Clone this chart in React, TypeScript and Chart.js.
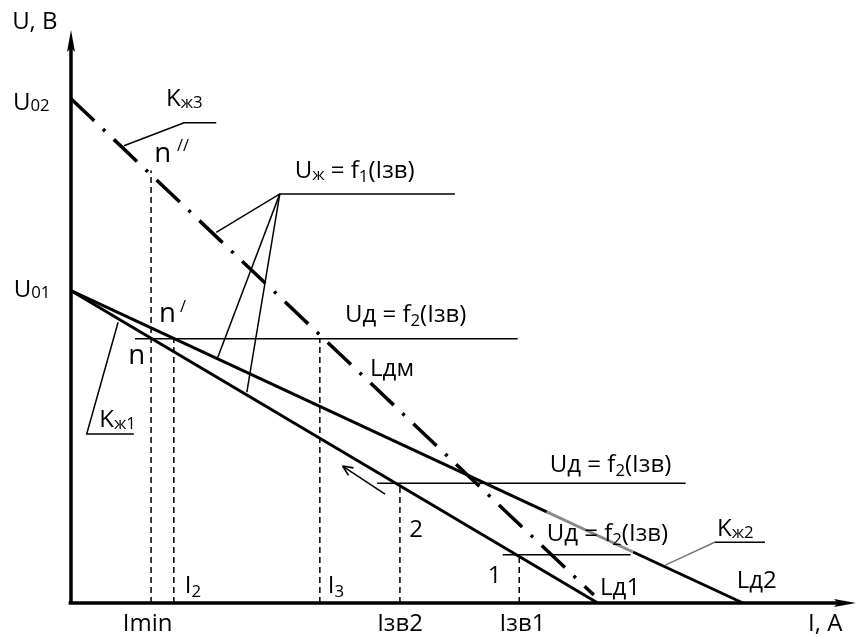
import React, { useEffect, useRef } from "react";
import { Chart, registerables } from "chart.js";
Chart.register(...registerables);

// ---- data (I in relative units 0..100, U in relative units 0..100) ----
const U02 = 88;
const U01 = 54.5;
const ldmLine = [{ x: 0, y: U02 }, { x: 66.6, y: 1.4 }];          // Lдм (dash-dot)
const ld1Line = [{ x: 0, y: U01 }, { x: 67.1, y: 0 }];            // Lд1
const ld2LineA = [{ x: 0, y: U01 }, { x: 60.6, y: 15.9 }];         // Lд2 (black part)
const ld2LineGray = [{ x: 60.6, y: 15.9 }, { x: 71.6, y: 8.9 }];   // Lд2 (grey part)
const ld2LineB = [{ x: 71.6, y: 8.9 }, { x: 85.6, y: 0 }];         // Lд2 (black part)
const uLevels = [46.1, 20.9, 8.4];                                   // Uд = f2(Iзв) levels
const uLevelStart = [8.15, 39.0, 55.0];
const uLevelEnd = [56.9, 78.3, 71.3];
const dropNames = ["Imin", "I2", "I3", "Iзв2", "Iзв1"];
const dropI = [10.2, 13.1, 31.7, 41.9, 57.1];
const dropTop = [75.5, 46.1, 46.1, 20.9, 8.4];
// leader lines
const ujLeader = [{ x: 48.9, y: 71.4 }, { x: 26.6, y: 71.4 }, { x: 18.5, y: 64.7 }];
const ujLeader2 = [{ x: 26.6, y: 71.4 }, { x: 18.7, y: 42.9 }];
const ujLeader3 = [{ x: 26.6, y: 71.4 }, { x: 22.4, y: 36.8 }];
const kj3Leader = [{ x: 6.75, y: 79.8 }, { x: 14.4, y: 83.8 }, { x: 18.5, y: 83.8 }];
const kj1Leader = [{ x: 6.0, y: 49.0 }, { x: 2.0, y: 29.5 }, { x: 8.0, y: 29.5 }];
const kj2LeaderDiag = [{ x: 75.7, y: 6.6 }, { x: 82.0, y: 10.6 }];
const kj2LeaderHor = [{ x: 82.0, y: 10.6 }, { x: 88.4, y: 10.6 }];
const moveArrow = [{ x: 40.0, y: 19.0 }, { x: 34.6, y: 23.9 }];
const yAxisLine = [{ x: 0, y: 0 }, { x: 0, y: 97 }];
const xAxisLine = [{ x: -0.3, y: 0 }, { x: 98, y: 0 }];

type Seg = { t: string; s?: number; dy?: number };
type Label = { parts: Seg[]; x: number; y: number };
const labels: Label[] = [
  { parts: [{ t: "U, В" }], x: -7.5, y: 100.2 },
  { parts: [{ t: "U" }, { t: "02", s: 0.7, dy: 1 }], x: -7.4, y: 86.0 },
  { parts: [{ t: "U" }, { t: "01", s: 0.7, dy: 1 }], x: -7.3, y: 53.4 },
  { parts: [{ t: "K" }, { t: "ж3", s: 0.7, dy: 2 }], x: 12.1, y: 86.7 },
  { parts: [{ t: "n", s: 1.15 }], x: 10.6, y: 77.0 },
  { parts: [{ t: "//", s: 0.68 }], x: 13.5, y: 78.9 },
  { parts: [{ t: "U" }, { t: "ж", s: 0.7, dy: 2 }, { t: " = f" }, { t: "1", s: 0.7, dy: 4 }, { t: "(Iзв)" }], x: 28.5, y: 74.2 },
  { parts: [{ t: "n", s: 1.15 }], x: 11.2, y: 49.0 },
  { parts: [{ t: "/", s: 0.68 }], x: 13.9, y: 50.8 },
  { parts: [{ t: "n", s: 1.15 }], x: 7.3, y: 41.7 },
  { parts: [{ t: "Uд = f" }, { t: "2", s: 0.7, dy: 4 }, { t: "(Iзв)" }], x: 34.9, y: 49.0 },
  { parts: [{ t: "Lдм" }], x: 38.1, y: 39.6 },
  { parts: [{ t: "K" }, { t: "ж1", s: 0.7, dy: 2 }], x: 3.6, y: 30.7 },
  { parts: [{ t: "Uд = f" }, { t: "2", s: 0.7, dy: 4 }, { t: "(Iзв)" }], x: 61.0, y: 22.9 },
  { parts: [{ t: "2" }], x: 43.1, y: 11.5 },
  { parts: [{ t: "Uд = f" }, { t: "2", s: 0.7, dy: 4 }, { t: "(Iзв)" }], x: 60.6, y: 10.8 },
  { parts: [{ t: "K" }, { t: "ж2", s: 0.7, dy: 2 }], x: 82.3, y: 11.7 },
  { parts: [{ t: "1" }], x: 53.1, y: 3.5 },
  { parts: [{ t: "Lд1" }], x: 67.4, y: 1.4 },
  { parts: [{ t: "Lд2" }], x: 84.8, y: 2.6 },
  { parts: [{ t: "I" }, { t: "2", s: 0.7, dy: 4 }], x: 14.5, y: 1.7 },
  { parts: [{ t: "I" }, { t: "3", s: 0.7, dy: 4 }], x: 32.7, y: 1.7 },
  { parts: [{ t: dropNames[0] }], x: 6.6, y: -4.9 },
  { parts: [{ t: dropNames[3] }], x: 39.0, y: -4.9 },
  { parts: [{ t: dropNames[4] }], x: 54.6, y: -4.9 },
  { parts: [{ t: "I, A" }], x: 93.9, y: -4.9 },
];

const FONT = '"Open Sans", "Noto Sans", sans-serif';
const BASE = 24;

function ds(data: { x: number; y: number }[], width: number, color = "#000", dash: number[] = []) {
  return {
    data,
    showLine: true,
    borderColor: color,
    borderWidth: width,
    borderDash: dash,
    borderCapStyle: "butt" as const,
    pointRadius: 0,
    fill: false,
    clip: false as any,
    tension: 0,
  };
}

const decorPlugin = {
  id: "decor",
  afterDatasetsDraw(chart: any) {
    const ctx = chart.ctx as CanvasRenderingContext2D;
    const xs = chart.scales.x, ys = chart.scales.y;
    const px = (v: number) => xs.getPixelForValue(v);
    const py = (v: number) => ys.getPixelForValue(v);
    ctx.save();
    ctx.fillStyle = "#000";
    // y-axis arrowhead
    const yt = { x: px(0), y: py(100) };
    ctx.beginPath();
    ctx.moveTo(yt.x, yt.y);
    ctx.lineTo(yt.x + 4, yt.y + 22);
    ctx.lineTo(yt.x, yt.y + 18);
    ctx.lineTo(yt.x - 4, yt.y + 22);
    ctx.closePath();
    ctx.fill();
    // x-axis arrowhead
    const xt = { x: px(100), y: py(0) };
    ctx.beginPath();
    ctx.moveTo(xt.x, xt.y);
    ctx.lineTo(xt.x - 22, xt.y - 4);
    ctx.lineTo(xt.x - 18, xt.y);
    ctx.lineTo(xt.x - 22, xt.y + 4);
    ctx.closePath();
    ctx.fill();
    // open arrowhead on the motion arrow
    const a0 = { x: px(moveArrow[0].x), y: py(moveArrow[0].y) };
    const a1 = { x: px(moveArrow[1].x), y: py(moveArrow[1].y) };
    const ang = Math.atan2(a1.y - a0.y, a1.x - a0.x);
    ctx.strokeStyle = "#000";
    ctx.lineWidth = 1.6;
    ctx.beginPath();
    for (const d of [0.42, -0.42]) {
      ctx.moveTo(a1.x, a1.y);
      ctx.lineTo(a1.x - 11 * Math.cos(ang + d), a1.y - 11 * Math.sin(ang + d));
    }
    ctx.stroke();
    // labels
    ctx.textBaseline = "alphabetic";
    ctx.textAlign = "left";
    for (const l of labels) {
      let x = px(l.x);
      const y = py(l.y);
      for (const p of l.parts) {
        const size = BASE * (p.s ?? 1);
        ctx.font = `${size}px ${FONT}`;
        ctx.fillText(p.t, x, y + (p.dy ?? 0));
        x += ctx.measureText(p.t).width;
      }
    }
    ctx.restore();
  },
};

export default function App() {
  const ref = useRef<HTMLCanvasElement | null>(null);
  useEffect(() => {
    if (!ref.current) return;
    const datasets: any[] = [
      ds(yAxisLine, 3.5),
      ds(xAxisLine, 3.5),
      ds(ldmLine, 3.5, "#000", [32, 12, 3, 12]),
      ds(ld1Line, 3),
      ds(ld2LineA, 3),
      ds(ld2LineGray, 3, "#8a8a8a"),
      ds(ld2LineB, 3),
    ];
    uLevels.forEach((u, i) => {
      datasets.push(ds([{ x: uLevelStart[i], y: u }, { x: uLevelEnd[i], y: u }], 1.5));
    });
    dropI.forEach((v, i) => {
      datasets.push(ds([{ x: v, y: 0 }, { x: v, y: dropTop[i] }], 1.5, "#000", [6, 4]));
    });
    [ujLeader, ujLeader2, ujLeader3, kj3Leader, kj1Leader, kj2LeaderHor, moveArrow].forEach((d) =>
      datasets.push(ds(d, 1.5))
    );
    datasets.push(ds(kj2LeaderDiag, 1.5, "#777"));

    const chart = new Chart(ref.current, {
      type: "scatter",
      data: { datasets },
      options: {
        animation: false,
        responsive: false,
        maintainAspectRatio: false,
        events: [],
        layout: { padding: { left: 71, right: 2, top: 30, bottom: 34 } },
        scales: {
          x: { type: "linear", min: 0, max: 100, display: false },
          y: { type: "linear", min: 0, max: 100, display: false },
        },
        plugins: { legend: { display: false }, tooltip: { enabled: false } },
      },
      plugins: [decorPlugin],
    });
    return () => chart.destroy();
  }, []);
  return (
    <div style={{ position: "absolute", left: 0, top: 0, width: 858, height: 637, background: "#fff" }}>
      <canvas ref={ref} width={858} height={637} style={{ display: "block" }} />
    </div>
  );
}
